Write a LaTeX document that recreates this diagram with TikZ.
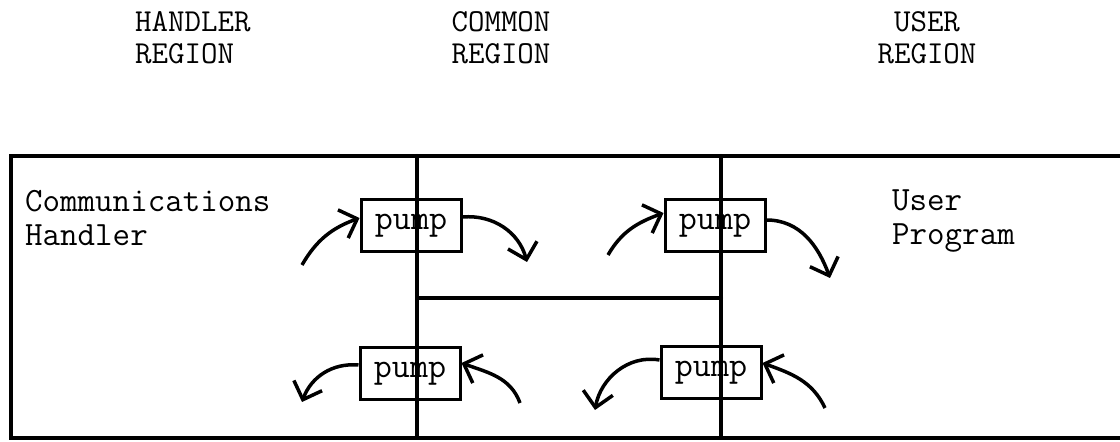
\documentclass[tikz,border=0pt]{standalone}
\usepackage{tikz}
\usetikzlibrary{arrows.meta}
\tikzset{
    wall/.style={line width=4pt,line cap=round},
    pumpbox/.style={draw,line width=3pt,minimum width=100pt,minimum height=52pt,inner sep=0pt,font=\fontsize{35}{35}\selectfont\ttfamily},
    flow/.style={line width=3.5pt,-{Straight Barb[length=15pt,width=30pt]}},
    region/.style={inner sep=0pt,font=\fontsize{32}{32}\selectfont\ttfamily},
    label/.style={inner sep=0pt,align=left,anchor=north west,font=\fontsize{34}{34}\selectfont\ttfamily}
}

\begin{document}
\begin{tikzpicture}[x=1pt,y=1pt]
    \useasboundingbox (0,0) rectangle (1120,442);

    \node[region,align=left,anchor=north west] (hreg) at (135,431) {HANDLER\\REGION};
    \node[region,align=center,anchor=north] (creg) at (501,431) {COMMON\\REGION};
    \node[region,align=center,anchor=north] (ureg) at (927,431) {USER\\REGION};

    \node[label] (comm) at (25,252) {Communications\\Handler};
    \node[label] (user) at (892,252) {User\\Program};

    \node[pumpbox] (p1) at (411,216) {pump};
    \node[pumpbox] (p2) at (715,216) {pump};
    \node[pumpbox] (p3) at (410,68) {pump};
    \node[pumpbox] (p4) at (711,69) {pump};

    \draw[wall] (1120,286) -- (11,286) -- (11,4) -- (1120,4);
    \draw[wall] (417,286) -- (417,4);
    \draw[wall] (721,286) -- (721,4);
    \draw[wall] (417,144) -- (721,144);

    \coordinate (t1) at (302,177);
    \coordinate (t2) at (527,180);
    \coordinate (t3) at (608,187);
    \coordinate (t4) at (830,164);
    \coordinate (t5) at (302,40);
    \coordinate (t6) at (520,39);
    \coordinate (t7) at (595,32);
    \coordinate (t8) at (825,34);

    \draw[flow] (t1) to[out=60,in=200] ([yshift=8pt]p1.west);
    \draw[flow] ([yshift=9pt]p1.east) to[out=5,in=105] (t2);
    \draw[flow] (t3) to[out=60,in=200] ([yshift=13pt]p2.west);
    \draw[flow] ([yshift=6pt]p2.east) to[out=0,in=110] (t4);
    \draw[flow] ([yshift=9pt]p3.west) to[out=175,in=70] (t5);
    \draw[flow] (t6) to[out=110,in=340] ([yshift=11pt]p3.east);
    \draw[flow] ([yshift=13pt]p4.west) to[out=170,in=80] (t7);
    \draw[flow] (t8) to[out=115,in=340] ([yshift=10pt]p4.east);
\end{tikzpicture}
\end{document}
